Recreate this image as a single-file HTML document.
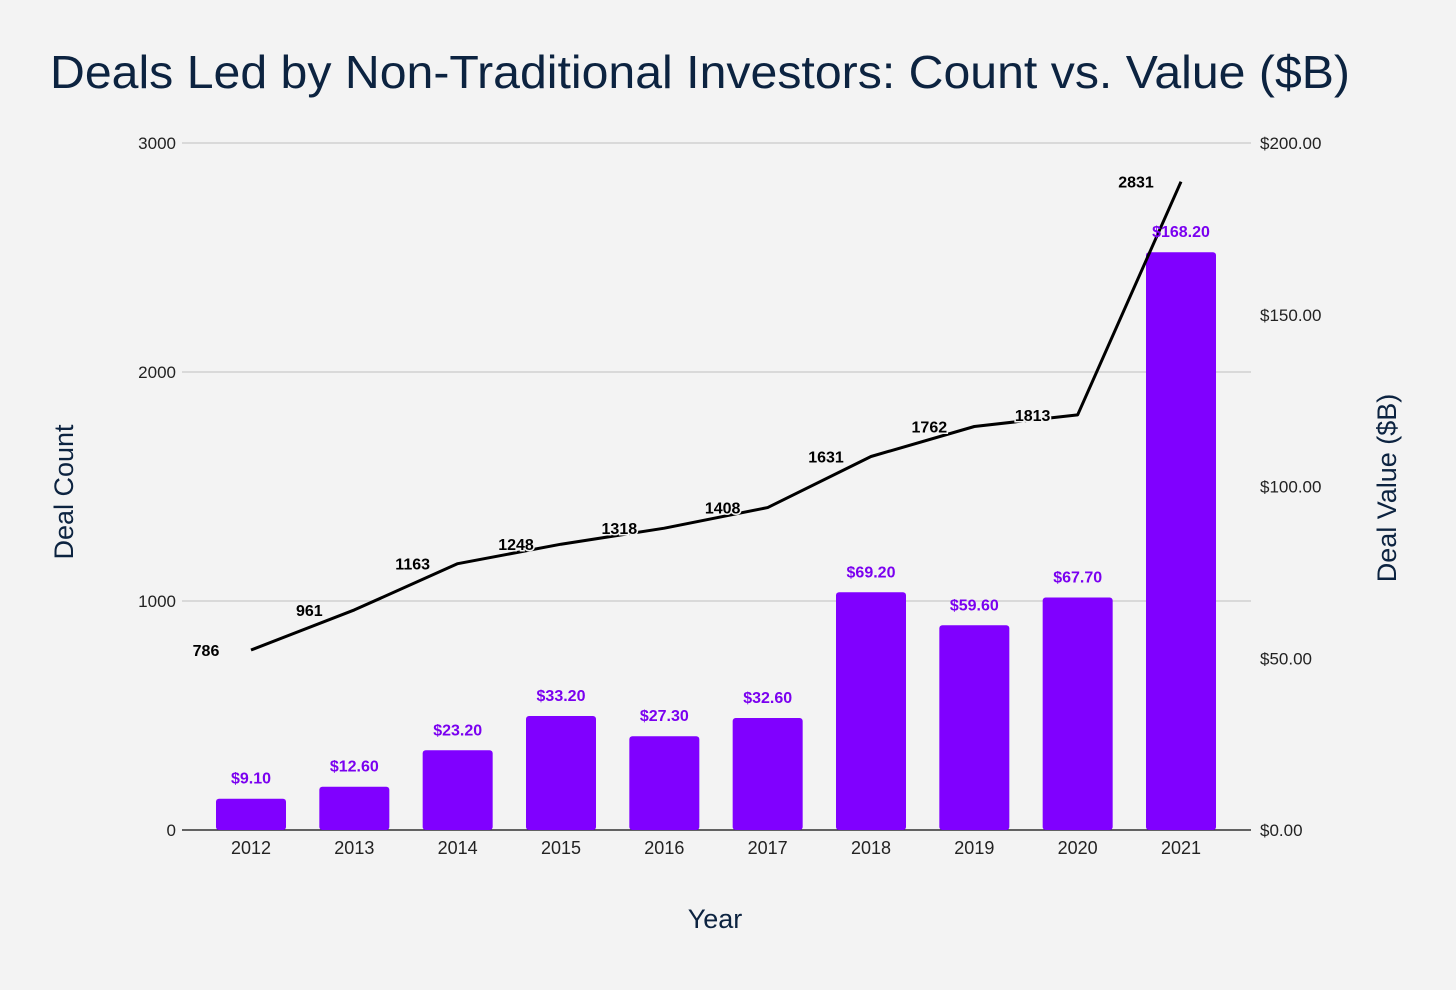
<!DOCTYPE html>
<html><head><meta charset="utf-8"><style>
html,body{margin:0;padding:0;background:#f3f3f3;}
svg{display:block;font-family:"Liberation Sans","DejaVu Sans",sans-serif;}
</style></head><body>
<svg id="chart" width="1456" height="990" viewBox="0 0 1456 990">
<rect width="1456" height="990" fill="#f3f3f3"/>
<text x="50" y="88" font-size="46" textLength="1300" lengthAdjust="spacingAndGlyphs" fill="#0c2340">Deals Led by Non-Traditional Investors: Count vs. Value ($B)</text>
<g id="grid"></g>
<g id="bars"></g>
<g id="line"></g>
<g id="labels"></g>
<text transform="translate(73,492) rotate(-90)" text-anchor="middle" font-size="27" fill="#0c2340">Deal Count</text>
<text transform="translate(1396,488) rotate(-90)" text-anchor="middle" font-size="27" fill="#0c2340">Deal Value ($B)</text>
<text x="715" y="928" text-anchor="middle" font-size="27" fill="#0c2340">Year</text>
</svg>
<script>
const years=["2012","2013","2014","2015","2016","2017","2018","2019","2020","2021"];
const dealCount=[786,961,1163,1248,1318,1408,1631,1762,1813,2831];
const dealValue=[9.1,12.6,23.2,33.2,27.3,32.6,69.2,59.6,67.7,168.2];
const leftTicks=[0,1000,2000,3000];
const rightTicks=[0,50,100,150,200];
const NS="http://www.w3.org/2000/svg";
const top0=143,bot=830,L=182,R=1251;
const yL=v=>bot-(v/3000)*(bot-top0);
const yR=v=>bot-(v/200)*(bot-top0);
const x=i=>251+i*(1181-251)/(years.length-1);
function mk(tag,attrs,parent,txt){const e=document.createElementNS(NS,tag);for(const k in attrs)e.setAttribute(k,attrs[k]);if(txt!==undefined)e.textContent=txt;parent.appendChild(e);return e;}
const grid=document.getElementById('grid'),bars=document.getElementById('bars'),line=document.getElementById('line'),labels=document.getElementById('labels');
leftTicks.forEach(t=>{
  const y=yL(t);
  const g=mk('line',{x1:L,x2:R,y1:y,y2:y,stroke:t===0?'#333':'#c9c9c9','stroke-width':t===0?1.5:1.2},grid);
  
  
  const tl=mk('text',{x:176,y:y+6,'text-anchor':'end','font-size':17,fill:'#222'},grid,String(t));
  
  
});
rightTicks.forEach(t=>{
  const tl=mk('text',{x:1260,y:yR(t)+6,'font-size':17,fill:'#222'},grid,'$'+t.toFixed(2));
  
  
});
years.forEach((yr,i)=>{
  const h=bot-yR(dealValue[i]);
  const b=mk('rect',{x:x(i)-35,y:yR(dealValue[i]),width:70,height:h,rx:3,fill:'#8000ff'},bars);
  
  
  const bl=mk('text',{x:x(i),y:yR(dealValue[i])-15,'text-anchor':'middle','font-size':16,'font-weight':'bold',fill:'#7a00f0'},labels,'$'+dealValue[i].toFixed(2));
  
  
  const xl=mk('text',{x:x(i),y:854,'text-anchor':'middle','font-size':18,fill:'#222'},labels,yr);
  
  
});
const pts=dealCount.map((v,i)=>x(i)+','+yL(v)).join(' ');
const pl=mk('polyline',{points:pts,fill:'none',stroke:'#000','stroke-width':3,'stroke-linejoin':'round'},line);


dealCount.forEach((v,i)=>{
  const t=mk('text',{x:x(i)-45,y:yL(v)+6,'text-anchor':'middle','font-size':16,'font-weight':'bold',fill:'#000',stroke:'#f3f3f3','stroke-width':3,'paint-order':'stroke'},labels,String(v));
  
  
});
</script>
</body></html>
